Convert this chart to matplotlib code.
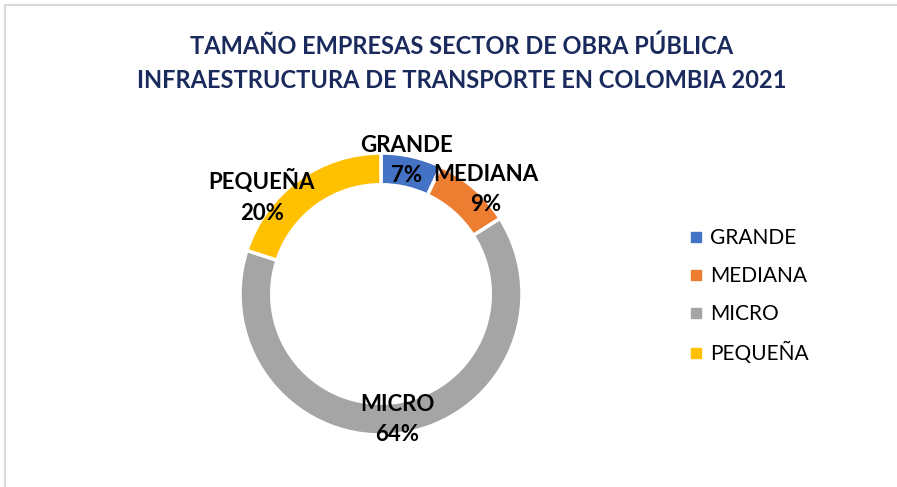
import matplotlib.pyplot as plt
from matplotlib.lines import Line2D
import numpy as np

# Datos
categorias = ["GRANDE", "MEDIANA", "MICRO", "PEQUEÑA"]
porcentajes = [7, 9, 64, 20]
colores = ["#4472C4", "#ED7D31", "#A5A5A5", "#FFC000"]
titulo = "TAMAÑO EMPRESAS SECTOR DE OBRA PÚBLICA\nINFRAESTRUCTURA DE TRANSPORTE EN COLOMBIA 2021"

# desplazamiento de las etiquetas (pixeles) respecto al centro del anillo
offsets = [(-4, 0), (14, 2), (-1, 10), (-39, -13)]

plt.rcParams['font.family'] = ['Lato', 'DejaVu Sans']

W, H = 897, 487
fig = plt.figure(figsize=(W / 100, H / 100), dpi=100)

# marco gris claro (solo arriba e izquierda visibles)
fig.add_artist(Line2D([5 / W, 5 / W, 1], [0, 1 - 5 / H, 1 - 5 / H], color="#d9d9d9", lw=1.5))

fig.text(462 / W, 1 - 63 / H, titulo, ha="center", va="center", fontsize=17,
         fontweight="bold", color="#1A2A5C", linespacing=1.6)

# anillo
cx, cy, r = 381, 294, 141
ax = fig.add_axes([(cx - r) / W, (H - cy - r) / H, 2 * r / W, 2 * r / H])
wedges, _ = ax.pie(porcentajes, colors=colores, startangle=90, counterclock=False,
                   wedgeprops=dict(width=0.225, edgecolor="white", linewidth=2.5))
ax.set_xlim(-1, 1)
ax.set_ylim(-1, 1)
for w in wedges:
    w.set_clip_on(False)

for w, cat, pct, off in zip(wedges, categorias, porcentajes, offsets):
    ang = np.deg2rad((w.theta1 + w.theta2) / 2)
    x, y = 0.97 * np.cos(ang), 0.97 * np.sin(ang)
    ax.annotate(f"{cat}\n{pct}%", (x, y), xytext=off, textcoords="offset pixels",
                ha="center", va="center", fontsize=16, fontweight="bold",
                color="black", linespacing=1.55, annotation_clip=False)

# leyenda
handles = [Line2D([], [], marker="s", linestyle="", color=c, markersize=6.5) for c in colores]
fig.legend(handles, categorias, loc="upper left", bbox_to_anchor=(688 / W, 1 - 228 / H),
           frameon=False, borderpad=0, borderaxespad=0, handlelength=0.8,
           handletextpad=0.25, labelspacing=0.86, fontsize=15)

fig.savefig("out.png", dpi=100)
